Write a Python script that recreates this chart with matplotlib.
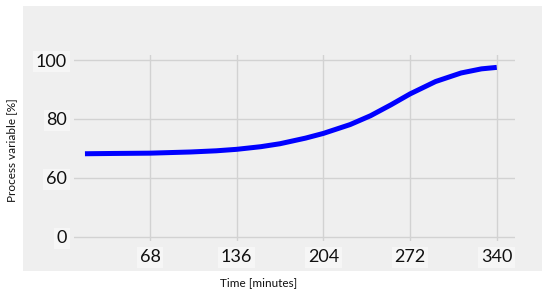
import matplotlib
matplotlib.use("Agg")
import matplotlib.pyplot as plt
from matplotlib.patches import Rectangle

# Data
time_min = [17, 40, 68, 100, 120, 136, 155, 170, 190, 204, 225, 241, 257, 272, 292, 312, 328, 340]
process_pct = [68.2, 68.3, 68.4, 68.8, 69.2, 69.7, 70.6, 71.6, 73.5, 75.1, 78.1, 81.1, 84.8, 88.5,
               92.7, 95.6, 97.0, 97.5]
x_ticks = [68, 136, 204, 272, 340]
x_tick_labels = ["68", "136", "204", "272", "340"]
y_ticks = [40, 60, 80, 100]
y_tick_labels = ["0", "60", "80", "100"]

plt.rcParams['font.family'] = ['Lato', 'DejaVu Sans']

fig = plt.figure(figsize=(5.5, 2.95), dpi=100)
fig.patch.set_facecolor('white')

# gray background panel
fig.patches.append(Rectangle((23/550, 1 - 271/295), (542-23)/550, (271-6)/295,
                             transform=fig.transFigure, facecolor='#efefef',
                             edgecolor='none', zorder=-10))

ax = fig.add_axes([74/550, (295-241)/295, 441/550, 186/295])
ax.set_zorder(5)
ax.set_facecolor('none')
ax.plot(time_min, process_pct, color='#0000ff', linewidth=3.6, solid_capstyle='butt',
        solid_joinstyle='round', zorder=3)

ax.set_xlim(8.4, 354.3)
ax.set_ylim(38.6, 101.7)
ax.set_xticks(x_ticks)
ax.set_xticklabels(x_tick_labels)
ax.set_yticks(y_ticks)
ax.set_yticklabels(y_tick_labels)
ax.grid(True, color='#d2d2d2', linewidth=1.0)
ax.set_axisbelow(True)
for s in ax.spines.values():
    s.set_visible(False)
ax.tick_params(axis='both', length=0, labelsize=13, colors='#111111')
ax.tick_params(axis='y', pad=5)
ax.tick_params(axis='x', pad=6)
for lbl in ax.get_xticklabels() + ax.get_yticklabels():
    lbl.set_bbox(dict(facecolor='#f6f6f6', edgecolor='none', pad=2))

fig.text(259/550, 1 - 283/295, "Time [minutes]", ha='center', va='center', fontsize=8.5, color='#111111')
fig.text(12/550, 1 - 150/295, "Process variable [%]", ha='center', va='center', rotation=90,
         fontsize=8.5, color='#111111')

fig.savefig("out.png", dpi=100, facecolor='white')
